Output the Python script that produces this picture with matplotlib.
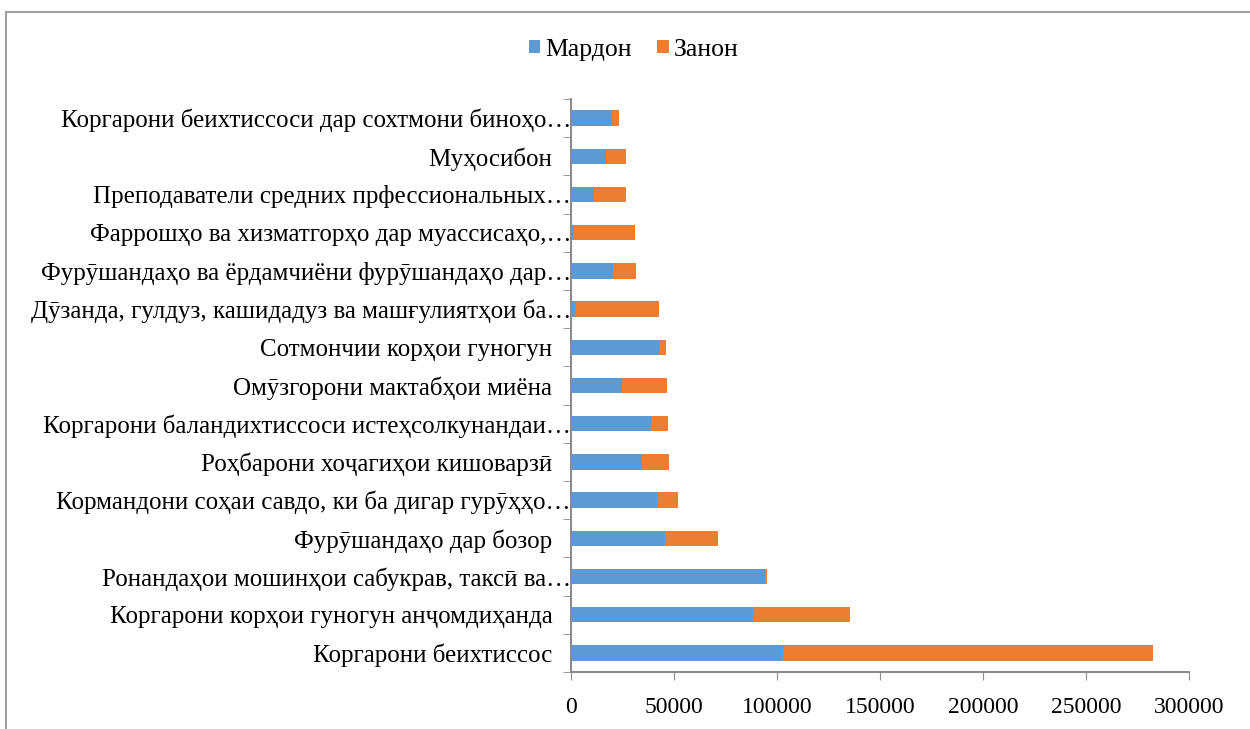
import matplotlib.pyplot as plt
from matplotlib.patches import Rectangle
import numpy as np

plt.rcParams['font.family'] = ['Liberation Serif', 'DejaVu Serif']

# categories from bottom to top
categories = [
    'Коргарони беихтиссос',
    'Коргарони корҳои гуногун анҷомдиҳанда',
    'Ронандаҳои мошинҳои сабукрав, таксӣ ва…',
    'Фурӯшандаҳо дар бозор',
    'Кормандони соҳаи савдо, ки ба дигар гурӯҳҳо…',
    'Роҳбарони хоҷагиҳои кишоварзӣ',
    'Коргарони баландихтиссоси истеҳсолкунандаи…',
    'Омӯзгорони мактабҳои миёна',
    'Сотмончии корҳои гуногун',
    'Дӯзанда, гулдуз, кашидадуз ва машғулиятҳои ба…',
    'Фурӯшандаҳо ва ёрдамчиёни фурӯшандаҳо дар…',
    'Фаррошҳо ва хизматгорҳо дар муассисаҳо,…',
    'Преподаватели средних прфессиональных…',
    'Муҳосибон',
    'Коргарони беихтиссоси дар сохтмони биноҳо…',
]
mardon = [103000, 88200, 94000, 45400, 41800, 34300, 38900, 24800, 42600, 1800,
          20200, 800, 11300, 17200, 19700]
zanon = [179500, 47200, 1000, 25900, 10000, 13300, 8100, 21900, 3700, 41000,
         11400, 30300, 15600, 9300, 3600]

blue = '#5b9bd5'
orange = '#ed7d31'
axis_col = '#8c8c8c'

fig = plt.figure(figsize=(12.5, 7.29), dpi=100)
ax = fig.add_axes([0.4568, 0.0782, 0.4944, 0.786])

y = np.arange(len(categories))
ax.barh(y, mardon, height=0.4, color=blue, label='Мардон')
ax.barh(y, zanon, left=mardon, height=0.4, color=orange, label='Занон')

ax.set_xlim(0, 300000)
ax.set_ylim(-0.5, len(categories) - 0.5)
ax.set_xticks(np.arange(0, 300001, 50000))
ax.set_yticks(y)
# full names get a little trailing space, truncated ones sit on the axis
ax.set_yticklabels([c if c.endswith('…') else c + '   ' for c in categories])
ax.tick_params(axis='y', length=0, labelsize=18, pad=0)
ax.tick_params(axis='x', length=6, color=axis_col, labelsize=17, pad=12)
# category boundary ticks
ax.set_yticks(np.arange(-0.5, len(categories), 1), minor=True)
ax.tick_params(axis='y', which='minor', length=6, color=axis_col)

for s in ['top', 'right']:
    ax.spines[s].set_visible(False)
for s in ['left', 'bottom']:
    ax.spines[s].set_color(axis_col)
    ax.spines[s].set_linewidth(1.5)

fig.legend(loc='center', bbox_to_anchor=(0.507, 0.932), ncol=2, frameon=False,
           fontsize=18.5, handlelength=0.45, handleheight=0.45, handletextpad=0.2,
           columnspacing=1.0)

# chart border
fig.patches.append(Rectangle((0.0045, -0.05), 1.2, 1.034, transform=fig.transFigure,
                             fill=False, edgecolor='#a0a0a0', linewidth=1.5))

fig.savefig('out.png', dpi=100)
